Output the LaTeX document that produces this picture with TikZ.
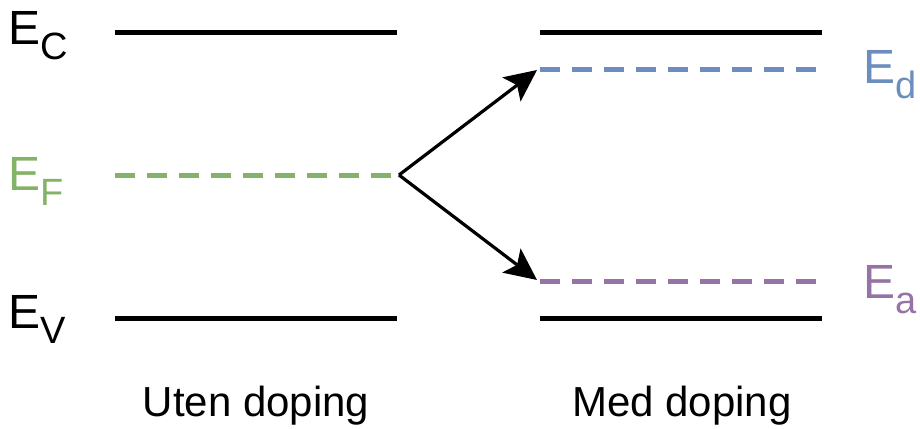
\documentclass[tikz,border=0pt]{standalone}
\usepackage{fontspec}
\setmainfont{Liberation Sans}
\usetikzlibrary{arrows.meta}
\definecolor{efgreen}{HTML}{82B366}
\definecolor{edblue}{HTML}{6C8EBF}
\definecolor{eapurple}{HTML}{9673A6}
\tikzset{
  band/.style={line width=5pt, black},
  level/.style={line width=5pt, dash pattern=on 20pt off 12pt},
  elabel/.style={anchor=base west, inner sep=0pt, font=\fontsize{48}{52}\selectfont},
  caption/.style={anchor=base, inner sep=0pt, font=\fontsize{42}{48}\selectfont},
  dopearrow/.style={line width=3.2pt, -{Stealth[length=32pt,width=30pt,inset=7pt]}}
}
\newcommand{\lsub}[1]{\raisebox{-15pt}{\fontsize{38}{42}\selectfont #1}}
\begin{document}
\begin{tikzpicture}[x=1pt,y=-1pt]
\useasboundingbox (0,0) rectangle (920,428);
% left column
\coordinate (lc1) at (115,33);  \coordinate (lc2) at (397,33);
\coordinate (lf1) at (115,175); \coordinate (lf2) at (397,175);
\coordinate (lv1) at (115,318); \coordinate (lv2) at (397,318);
% right column
\coordinate (rc1) at (540,33);  \coordinate (rc2) at (822,33);
\coordinate (rd1) at (540,69);  \coordinate (rd2) at (822,69);
\coordinate (ra1) at (540,281); \coordinate (ra2) at (822,281);
\coordinate (rv1) at (540,318); \coordinate (rv2) at (822,318);

\draw[band] (lc1) -- (lc2);
\draw[band] (lv1) -- (lv2);
\draw[level, efgreen] (lf1) -- (lf2);
\draw[band] (rc1) -- (rc2);
\draw[band] (rv1) -- (rv2);
\draw[level, edblue] (rd1) -- (rd2);
\draw[level, eapurple] (ra1) -- (ra2);

\coordinate (src) at (399,175);
\coordinate (tipd) at (537,70);
\coordinate (tipa) at (537,280);
\draw[dopearrow] (src) -- (tipd);
\draw[dopearrow] (src) -- (tipa);

\node[elabel] (ec) at (8,45) {E\lsub{C}};
\node[elabel, text=efgreen] (ef) at (8,190) {E\lsub{F}};
\node[elabel] (ev) at (8,328) {E\lsub{V}};
\node[elabel, text=edblue] (ed) at (863,83) {E\lsub{d}};
\node[elabel, text=eapurple] (ea) at (863,298) {E\lsub{a}};

\node[caption] (uten) at (256,416) {Uten doping};
\node[caption] (med) at (682,416) {Med doping};
\end{tikzpicture}
\end{document}
